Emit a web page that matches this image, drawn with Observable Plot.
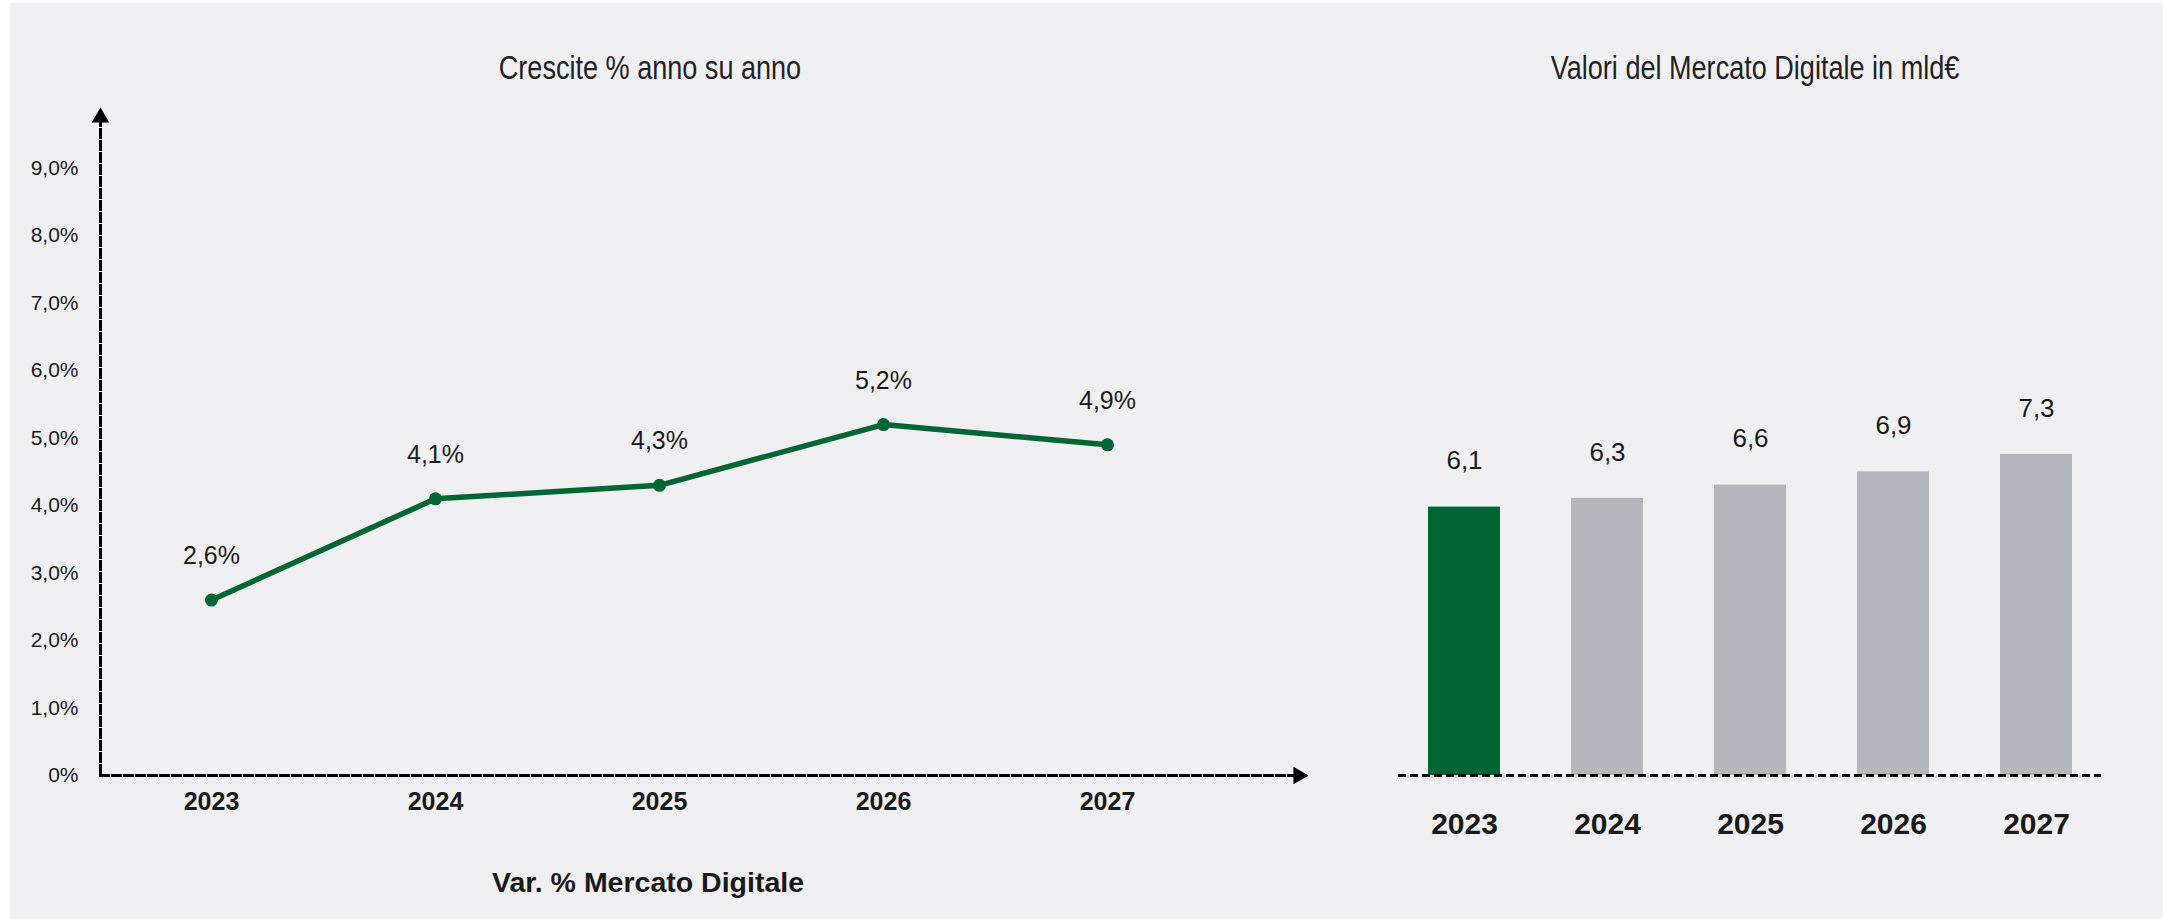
<!DOCTYPE html>
<html>
<head>
<meta charset="utf-8">
<script src="https://cdn.jsdelivr.net/npm/d3@7"></script>
<script src="https://cdn.jsdelivr.net/npm/@observablehq/plot@0.6"></script>
<style>
  html, body { margin: 0; padding: 0; background: #ffffff; }
  body { width: 2163px; height: 919px; position: relative; overflow: hidden; }
  #bg { position: absolute; left: 10px; top: 3px; right: 0; bottom: 0; background: #f0f0f2; }
  .abs { position: absolute; top: 0; }
  .title {
    position: absolute; transform: translateX(-50%) scaleX(0.82); transform-origin: 50% 50%;
    white-space: nowrap; line-height: 1;
    font-family: "Liberation Sans", Arial, sans-serif;
    font-size: 33px; color: #222;
  }
  .caption {
    position: absolute; transform: translateX(-50%); white-space: nowrap; line-height: 1;
    font-family: "Liberation Sans", Arial, sans-serif; font-weight: bold;
    font-size: 28.5px; color: #1a1a1a;
  }
</style>
</head>
<body>
<div id="bg"></div>
<div id="left" class="abs" style="left:0px"></div>
<div id="right" class="abs" style="left:1330px"></div>
<div class="title" style="left:650px; top:51px;">Crescite % anno su anno</div>
<div class="title" style="left:1755px; top:51px;">Valori del Mercato Digitale in mld€</div>
<div class="caption" style="left:648px; top:868px;">Var. % Mercato Digitale</div>
<script>
// ---- data ----
const years = ["2023", "2024", "2025", "2026", "2027"];
const growthPct = [2.6, 4.1, 4.3, 5.2, 4.9];
const growthLabels = ["2,6%", "4,1%", "4,3%", "5,2%", "4,9%"];
const marketValues = [6.1, 6.3, 6.6, 6.9, 7.3];
const marketLabels = ["6,1", "6,3", "6,6", "6,9", "7,3"];
const yTicks = [0, 1, 2, 3, 4, 5, 6, 7, 8, 9];
const yTickLabels = ["0%", "1,0%", "2,0%", "3,0%", "4,0%", "5,0%", "6,0%", "7,0%", "8,0%", "9,0%"];

// ---- styles ----
const GREEN = "#006633";
const GRAY = "#b5b7bf";
const INK = "#1a1a1a";
const FONT = "'Liberation Sans', Arial, sans-serif";

const growthTable = years.map((year, i) => ({year, value: growthPct[i], label: growthLabels[i]}));
const marketTable = years.map((year, i) => ({year, value: marketValues[i], label: marketLabels[i], highlight: i === 0}));

// ---- left: line chart ----
const left = Plot.plot({
  width: 1330,
  height: 919,
  marginLeft: 100,
  marginRight: 32,
  marginTop: 117,
  marginBottom: 144,
  style: {background: "transparent", fontFamily: FONT, color: INK, overflow: "visible"},
  x: {type: "point", domain: years, padding: 0, insetLeft: 110, insetRight: 191},
  y: {domain: [0, 9.75]},
  marks: [
    Plot.frame({anchor: "left", stroke: "#000", strokeWidth: 3, strokeDasharray: "8,4"}),
    Plot.frame({anchor: "bottom", stroke: "#000", strokeWidth: 3, strokeDasharray: "8,4"}),
    Plot.dot([0], {x: null, y: null, frameAnchor: "top-left", symbol: "triangle", r: 6.5, fill: "#000", stroke: null}),
    Plot.dot([0], {x: null, y: null, frameAnchor: "bottom-right", symbol: "triangle", rotate: 90, r: 6.5, fill: "#000", stroke: null}),
    Plot.axisY({ticks: yTicks, tickFormat: d => yTickLabels[yTicks.indexOf(d)], tickSize: 0, tickPadding: 22, fontSize: 21, label: null}),
    Plot.axisX({tickSize: 0, tickPadding: 17, fontSize: 25, fontWeight: "bold", label: null}),
    Plot.line(growthTable, {x: "year", y: "value", stroke: GREEN, strokeWidth: 5.5}),
    Plot.dot(growthTable, {x: "year", y: "value", r: 6.5, fill: GREEN, stroke: null}),
    Plot.text(growthTable, {x: "year", y: "value", text: "label", dy: -44, fontSize: 25, fill: INK})
  ]
});
document.getElementById("left").appendChild(left);

// ---- right: bar chart ----
const right = Plot.plot({
  width: 833,
  height: 919,
  marginLeft: 68,
  marginRight: 62,
  marginTop: 335,
  marginBottom: 144,
  style: {background: "transparent", fontFamily: FONT, color: INK, overflow: "visible"},
  x: {type: "band", domain: years, paddingInner: 0.5, paddingOuter: 0.2},
  y: {domain: [0, 10], axis: null},
  color: {type: "identity"},
  marks: [
    Plot.barY(marketTable, {x: "year", y: "value", fill: d => d.highlight ? GREEN : GRAY}),
    Plot.ruleY([0], {stroke: "#000", strokeWidth: 3, strokeDasharray: "8,4"}),
    Plot.text(marketTable, {x: "year", y: "value", text: "label", dy: -46, fontSize: 26, fill: INK}),
    Plot.axisX({tickSize: 0, tickPadding: 37, fontSize: 30, fontWeight: "bold", label: null})
  ]
});
document.getElementById("right").appendChild(right);
</script>
</body>
</html>
